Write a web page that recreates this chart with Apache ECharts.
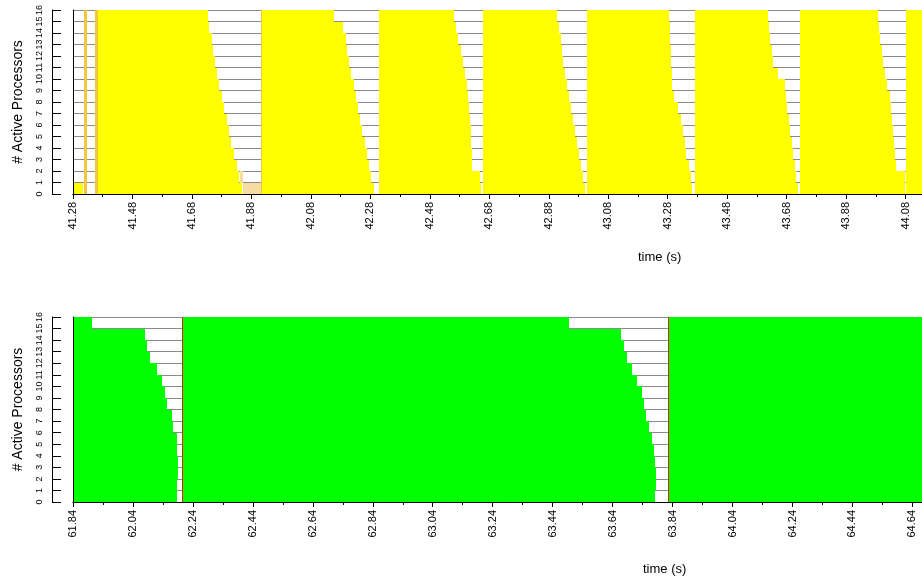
<!DOCTYPE html>
<html><head><meta charset="utf-8">
<script src="https://cdn.jsdelivr.net/npm/echarts@6/dist/echarts.min.js"></script>
<style>html,body{margin:0;padding:0;background:#fff}#c{width:922px;height:579px}</style>
</head><body><div id="c"></div>
<script>
const rowCount = 16;
const topTicks = [41.28,41.48,41.68,41.88,42.08,42.28,42.48,42.68,42.88,43.08,43.28,43.48,43.68,43.88,44.08];
const bottomTicks = [61.84,62.04,62.24,62.44,62.64,62.84,63.04,63.24,63.44,63.64,63.84,64.04,64.24,64.44,64.64];

// top chart: iteration start times, and end time per processor (row 0..15)
const topIterStart = [41.358, 41.917, 42.310, 42.659, 43.008, 43.370, 43.726, 44.081];
const topIterEnd = [
  [41.847,41.837,41.830,41.820,41.813,41.803,41.797,41.787,41.780,41.770,41.763,41.756,41.750,41.746,41.736,41.733],
  [42.293,42.283,42.276,42.270,42.263,42.253,42.246,42.240,42.233,42.226,42.216,42.209,42.203,42.199,42.189,42.159],
  [42.652,42.649,42.622,42.622,42.619,42.619,42.615,42.612,42.609,42.605,42.598,42.592,42.585,42.575,42.568,42.562],
  [43.001,42.994,42.988,42.981,42.974,42.968,42.961,42.954,42.947,42.941,42.934,42.927,42.924,42.921,42.914,42.907],
  [43.363,43.357,43.350,43.343,43.337,43.330,43.323,43.313,43.300,43.293,43.293,43.290,43.290,43.286,43.286,43.283],
  [43.719,43.712,43.709,43.702,43.699,43.692,43.689,43.682,43.679,43.675,43.652,43.635,43.629,43.625,43.622,43.618],
  [44.078,44.078,44.048,44.044,44.041,44.038,44.034,44.031,44.028,44.018,44.011,44.004,44.001,43.994,43.991,43.987],
  [44.200,44.200,44.200,44.200,44.200,44.200,44.200,44.200,44.200,44.200,44.200,44.200,44.200,44.200,44.200,44.200]
];
const topExtra = [[0, 41.280, 41.312]];            // [row, start, end]
const topMarks = [[41.316, 41.326], [41.354, 41.364], [41.913, 41.917]]; // on every row
const topFaint = [[0, 41.850, 41.912], [1, 41.840, 41.850]];

// bottom chart
const botIterStart = [61.800, 62.206, 63.828];
const botIterEnd = [
  [62.186,62.186,62.190,62.190,62.186,62.186,62.173,62.170,62.153,62.146,62.136,62.120,62.096,62.086,62.080,61.903],
  [63.781,63.785,63.785,63.781,63.778,63.771,63.761,63.751,63.745,63.738,63.721,63.705,63.688,63.678,63.668,63.495],
  [64.800,64.800,64.800,64.800,64.800,64.800,64.800,64.800,64.800,64.800,64.800,64.800,64.800,64.800,64.800,64.800]
];
const botMarks = [[62.202, 62.206], [63.824, 63.828]];

function iterData(starts, ends) {
  const d = [];
  starts.forEach((s, i) => ends[i].forEach((e, r) => d.push([r, s, e])));
  return d;
}
function markData(marks) {
  const d = [];
  marks.forEach(m => { for (let r = 0; r < rowCount; r++) d.push([r, m[0], m[1]]); });
  return d;
}
function mids(t) { const m = []; for (let i = 0; i < t.length - 1; i++) m.push(+((t[i] + t[i+1]) / 2).toFixed(3)); return m; }

function renderItem(params, api) {
  const r = api.value(0), s = api.value(1), e = api.value(2);
  const p0 = api.coord([s, r + 1]);
  const p1 = api.coord([e, r]);
  const x0 = Math.round(p0[0]);
  let x1 = Math.round(p1[0]);
  if (x1 - x0 < 1) x1 = x0 + 1;
  const y0 = Math.round(p0[1]), y1 = Math.round(p1[1]);
  const cs = params.coordSys;
  const shape = echarts.graphic.clipRectByRect(
    {x: x0, y: y0, width: x1 - x0, height: y1 - y0},
    {x: cs.x, y: cs.y, width: cs.width, height: cs.height});
  if (!shape) return;
  return {type: 'rect', shape: shape, style: {fill: api.visual('color')}};
}

const font = 'Liberation Sans';
function xAxes(grid, ticks, min, max) {
  return [
    {type: 'value', gridIndex: grid, min: min, max: max, position: 'bottom', z: 10,
     axisLine: {show: true, lineStyle: {color: '#000', width: 1}},
     axisTick: {show: true, length: 5, customValues: ticks, lineStyle: {color: '#000'}},
     axisLabel: {show: true, rotate: 90, fontSize: 11, margin: 8, color: '#000', fontFamily: font,
                 customValues: ticks, formatter: v => v.toFixed(2)},
     splitLine: {show: false}},
    {type: 'value', gridIndex: grid, min: min, max: max, position: 'bottom', z: 10,
     axisLine: {show: false},
     axisTick: {show: true, length: 3, customValues: mids(ticks), lineStyle: {color: '#000'}},
     axisLabel: {show: false}, splitLine: {show: false}},
    {type: 'value', gridIndex: grid, min: min, max: max, position: 'top', z: 10,
     axisLine: {show: true, lineStyle: {color: '#000', width: 1}},
     axisTick: {show: false}, axisLabel: {show: false}, splitLine: {show: false}}
  ];
}
function yAxes(grid) {
  return [
    {type: 'value', gridIndex: grid, min: 0, max: 16, interval: 1, position: 'left', offset: 21, z: 10,
     name: '# Active Processors', nameLocation: 'middle', nameGap: 27,
     nameTextStyle: {fontSize: 14, color: '#000', fontFamily: font},
     axisLine: {show: true, lineStyle: {color: '#000'}},
     axisTick: {show: true, inside: true, length: 9, lineStyle: {color: '#000'}},
     axisLabel: {show: true, rotate: 90, fontSize: 9, margin: 8, color: '#000', fontFamily: font},
     splitLine: {show: false}},
    {type: 'value', gridIndex: grid, min: 0, max: 16, interval: 1, position: 'left', offset: 0, z: 10,
     axisLine: {show: true, lineStyle: {color: '#000'}},
     axisTick: {show: false}, axisLabel: {show: false}, splitLine: {show: false}},
    {type: 'value', gridIndex: grid, min: 0, max: 16, interval: 1, position: 'left', offset: 0, z: 0,
     axisLine: {show: false}, axisTick: {show: false}, axisLabel: {show: false},
     splitLine: {show: true, lineStyle: {color: '#8a8a8a', width: 1}}}
  ];
}

const chart = echarts.init(document.getElementById('c'), null, {renderer: 'canvas'});
const option = {
  animation: false,
  backgroundColor: '#fff',
  grid: [
    {left: 73, right: -2, top: 10, height: 184},
    {left: 73, right: -2, top: 317, height: 185}
  ],
  xAxis: [].concat(xAxes(0, topTicks, 41.28, 44.135), xAxes(1, bottomTicks, 61.84, 64.672)),
  yAxis: [].concat(yAxes(0), yAxes(1)),
  graphic: [
    {type: 'text', left: 638, top: 251, style: {text: 'time (s)', fontSize: 13, fill: '#000', fontFamily: font}},
    {type: 'text', left: 643, top: 563, style: {text: 'time (s)', fontSize: 13, fill: '#000', fontFamily: font}}
  ],
  series: [
    {type: 'custom', xAxisIndex: 0, yAxisIndex: 0, renderItem, encode: {x: [1, 2], y: 0}, itemStyle: {color: '#ffff00'},
     data: iterData(topIterStart, topIterEnd).concat(topExtra)},
    {type: 'custom', xAxisIndex: 0, yAxisIndex: 0, renderItem, encode: {x: [1, 2], y: 0}, itemStyle: {color: '#f2c640'},
     data: markData(topMarks)},
    {type: 'custom', xAxisIndex: 0, yAxisIndex: 0, renderItem, encode: {x: [1, 2], y: 0}, itemStyle: {color: '#f6dca0'},
     data: topFaint},
    {type: 'custom', xAxisIndex: 3, yAxisIndex: 3, renderItem, encode: {x: [1, 2], y: 0}, itemStyle: {color: '#00ff00'},
     data: iterData(botIterStart, botIterEnd)},
    {type: 'custom', xAxisIndex: 3, yAxisIndex: 3, renderItem, encode: {x: [1, 2], y: 0}, itemStyle: {color: '#e02010'},
     data: markData(botMarks)}
  ]
};
chart.setOption(option);
</script></body></html>
